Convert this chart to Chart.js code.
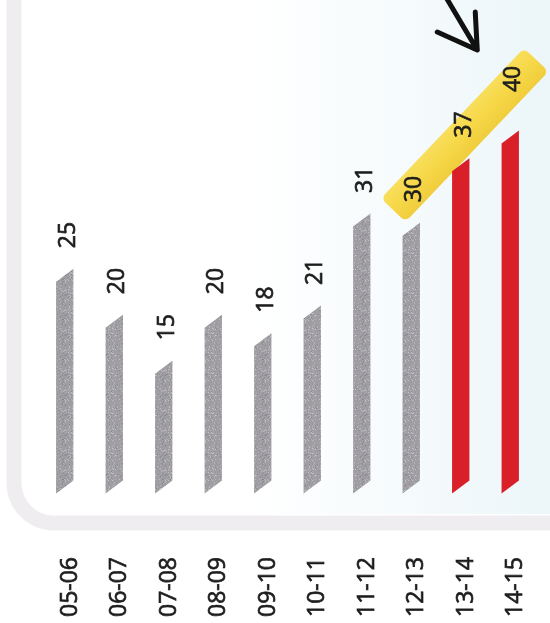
<!DOCTYPE html>
<html><head><meta charset="utf-8">
<script src="https://cdn.jsdelivr.net/npm/chart.js@4.4.1/dist/chart.umd.min.js"></script>
<style>html,body{margin:0;padding:0;background:#fff;overflow:hidden}#wrap{width:550px;height:623px}</style>
</head><body><div id="wrap"><canvas id="c" width="550" height="623"></canvas></div>
<script>
// ---- data ----
const categories = ['05-06','06-07','07-08','08-09','09-10','10-11','11-12','12-13','13-14','14-15'];
const values = [25, 20, 15, 20, 18, 21, 31, 30, 37, 40];
const redBars = [8, 9];            // indexes of red (highlighted) bars
const bandBars = [7, 8, 9];        // labels placed on the yellow band

// ---- style ----
const FONT = '23px "Open Sans", "Noto Sans", sans-serif';
const TEXT = '#1d1d1d';
const RED = '#d91f27';
const SLANT = 6.5;
const Y_MIN = 2, Y_MAX = 50;

function grayPattern(ctx) {
  const c = document.createElement('canvas'); c.width = 20; c.height = 20;
  const g = c.getContext('2d');
  g.fillStyle = '#a09ea3'; g.fillRect(0, 0, 20, 20);
  let s = 12345;
  const rnd = () => { s = (s * 1103515245 + 12345) & 0x7fffffff; return s / 0x7fffffff; };
  for (let i = 0; i < 160; i++) {
    const v = Math.floor(115 + rnd() * 100);
    g.fillStyle = `rgba(${v},${v},${v + 6},0.65)`;
    g.fillRect(Math.floor(rnd() * 20), Math.floor(rnd() * 20), 1, 1);
  }
  return ctx.createPattern(c, 'repeat');
}

const canvas = document.getElementById('c');
const ctx0 = canvas.getContext('2d');
const GRAY = grayPattern(ctx0);
const colors = values.map((v, i) => redBars.includes(i) ? RED : GRAY);

const backgroundPlugin = {
  id: 'bg',
  beforeDraw(chart) {
    const ctx = chart.ctx, W = chart.width, H = chart.height;
    ctx.save();
    ctx.fillStyle = '#ffffff'; ctx.fillRect(0, 0, W, H);
    const gr = ctx.createLinearGradient(250, 0, 550, 0);
    gr.addColorStop(0, 'rgba(238,247,250,0)');
    gr.addColorStop(1, 'rgba(236,246,249,1)');
    ctx.fillStyle = gr; ctx.fillRect(250, 0, W - 250, 514);
    // faint page frame
    ctx.strokeStyle = 'rgba(222,215,222,0.45)';
    ctx.lineWidth = 15;
    ctx.beginPath();
    ctx.moveTo(14, -10); ctx.lineTo(14, 480);
    ctx.arcTo(14, 523, 57, 523, 40);
    ctx.lineTo(W + 10, 523);
    ctx.stroke();
    ctx.restore();
  },
  beforeDatasetsDraw(chart) {
    // yellow band behind the last labels
    const ctx = chart.ctx;
    const els = chart.getDatasetMeta(0).data;
    const a = els[bandBars[0]], b = els[bandBars[bandBars.length - 1]];
    const ay = a.y - 38, by = b.y - 50;
    const m = (by - ay) / (b.x - a.x);
    const sx = a.x - 18, sy = ay - 18 * m;
    const ex = b.x + 26, ey = by + 26 * m;
    const L = Math.hypot(ex - sx, ey - sy);
    const ang = Math.atan2(ey - sy, ex - sx);
    ctx.save();
    ctx.translate(sx, sy); ctx.rotate(ang);
    const g = ctx.createLinearGradient(0, -17, 0, 17);
    g.addColorStop(0, '#f8de5c'); g.addColorStop(0.5, '#f6d747'); g.addColorStop(1, '#f0cd3c');
    ctx.fillStyle = g;
    ctx.beginPath(); ctx.roundRect(0, -17, L, 34, 6); ctx.fill();
    ctx.restore();
  }
};

const slantBars = {
  id: 'slantBars',
  beforeDatasetDraw(chart, args) {
    const ctx = chart.ctx;
    args.meta.data.forEach((el, i) => {
      const {x, y, base, width} = el.getProps(['x', 'y', 'base', 'width'], true);
      const w = width / 2;
      ctx.save();
      ctx.fillStyle = colors[i];
      ctx.beginPath();
      ctx.moveTo(x - w, y + SLANT);
      ctx.lineTo(x + w, y - SLANT);
      ctx.lineTo(x + w, base - SLANT);
      ctx.lineTo(x - w, base + SLANT);
      ctx.closePath(); ctx.fill();
      ctx.restore();
    });
    return false;
  }
};

function drawText(ctx, t) {
  ctx.fillText(t, 0, 0);
  ctx.strokeText(t, 0, 0);
}

const labelsPlugin = {
  id: 'labels',
  afterDatasetsDraw(chart) {
    const ctx = chart.ctx;
    const meta = chart.getDatasetMeta(0);
    const xs = chart.scales.x;
    ctx.save();
    ctx.font = FONT; ctx.fillStyle = TEXT; ctx.strokeStyle = TEXT; ctx.lineWidth = 0.7;
    ctx.textAlign = 'left'; ctx.textBaseline = 'alphabetic';
    meta.data.forEach((el, i) => {
      const lift = (i === bandBars[bandBars.length - 1]) ? 18 : 0;
      ctx.save();
      ctx.translate(el.x + 10, el.y - 27 - lift);
      ctx.rotate(-Math.PI / 2);
      drawText(ctx, String(values[i]));
      ctx.restore();
    });
    categories.forEach((c, i) => {
      ctx.save();
      ctx.translate(xs.getPixelForValue(i) + 12, 617);
      ctx.rotate(-Math.PI / 2);
      drawText(ctx, c);
      ctx.restore();
    });
    // hand-drawn arrow pointing at the band
    const last = meta.data[meta.data.length - 1];
    const tx = last.x - 33, ty = 50;
    ctx.strokeStyle = '#111'; ctx.lineWidth = 5; ctx.lineCap = 'round'; ctx.lineJoin = 'round';
    ctx.beginPath();
    ctx.moveTo(tx - 32, -4); ctx.lineTo(tx, ty);
    ctx.moveTo(tx - 40, ty - 18); ctx.lineTo(tx, ty); ctx.lineTo(tx - 2, ty - 38);
    ctx.stroke();
    ctx.restore();
  }
};

new Chart(canvas, {
  type: 'bar',
  data: {
    labels: categories,
    datasets: [{ data: values, base: Y_MIN, backgroundColor: colors, barPercentage: 0.35, categoryPercentage: 1 }]
  },
  options: {
    responsive: false,
    animation: false,
    layout: { padding: { left: 40, right: 15, top: 45, bottom: 136 } },
    plugins: { legend: { display: false }, tooltip: { enabled: false } },
    scales: {
      x: { display: false },
      y: { display: false, min: Y_MIN, max: Y_MAX }
    }
  },
  plugins: [backgroundPlugin, slantBars, labelsPlugin]
});
</script></body></html>
